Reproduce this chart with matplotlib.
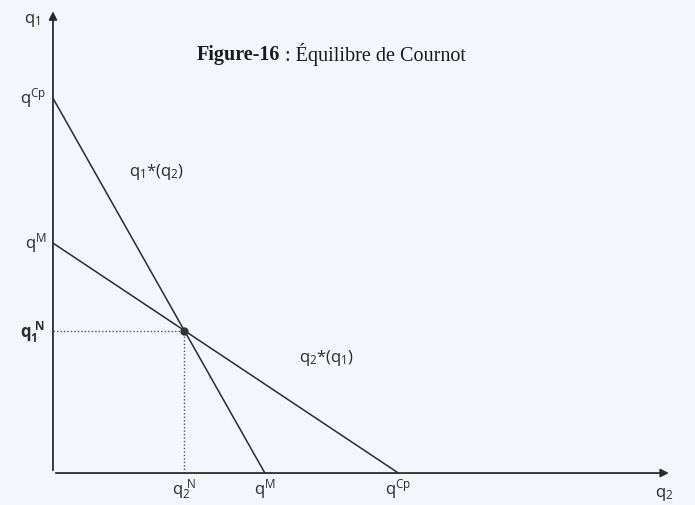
import matplotlib.pyplot as plt

plt.rcParams['font.family'] = ['Open Sans', 'DejaVu Sans']
plt.rcParams['mathtext.fontset'] = 'custom'
plt.rcParams['mathtext.rm'] = 'Open Sans'

# quantites du modele de Cournot (duopole symetrique)
q_M = 1.0      # quantite de monopole
q_Cp = 1.63    # quantite de concurrence parfaite
q_N = q_M * q_Cp / (q_M + q_Cp)   # equilibre de Nash

# fonctions de reaction : extremites
rf1_q2 = [0.0, q_M]
rf1_q1 = [q_Cp, 0.0]
rf2_q2 = [0.0, q_Cp]
rf2_q1 = [q_M, 0.0]

ink = '#2b2b2b'
fig = plt.figure(figsize=(6.95, 5.05), dpi=100)
fig.patch.set_facecolor('#f3f6fc')
ax = fig.add_axes([0, 0, 1, 1])
ax.set_facecolor('#f3f6fc')
ax.set_xlim(-0.25, 3.03)
ax.set_ylim(-0.139, 2.057)
ax.axis('off')

# axes avec fleches
ax.annotate('', xy=(2.92, 0), xytext=(0, 0),
            arrowprops=dict(arrowstyle='-|>', color=ink, lw=1.3, mutation_scale=12))
ax.annotate('', xy=(0, 2.02), xytext=(0, 0),
            arrowprops=dict(arrowstyle='-|>', color=ink, lw=1.3, mutation_scale=12))

# courbes de reaction
ax.plot(rf1_q2, rf1_q1, color=ink, lw=1.1)
ax.plot(rf2_q2, rf2_q1, color=ink, lw=1.1)

# pointilles vers l'equilibre
ax.plot([0, q_N], [q_N, q_N], color='#555555', lw=1.0, ls=(0, (1, 1.5)))
ax.plot([q_N, q_N], [0, q_N], color='#555555', lw=1.0, ls=(0, (1, 1.5)))
ax.plot(q_N, q_N, 'o', color='#333333', ms=5)

fs = 12
# etiquettes axe vertical
ax.text(-0.06, 1.97, r'$\mathregular{q_1}$', fontsize=fs, ha='right', va='center', color=ink)
ax.text(-0.03, q_Cp, r'$\mathregular{q^{Cp}}$', fontsize=fs, ha='right', va='center', color=ink)
ax.text(-0.03, q_M, r'$\mathregular{q^{M}}$', fontsize=fs, ha='right', va='center', color=ink)
ax.text(-0.04, q_N - 0.01, r'$\mathregular{q_1^{\ N}}$', fontsize=fs, ha='right', va='center',
        color=ink, fontweight='bold')

# etiquettes axe horizontal
yb = -0.095
ax.text(q_N, yb, r'$\mathregular{q_2^{\ N}}$', fontsize=fs, ha='center', va='baseline', color=ink)
ax.text(q_M, yb, r'$\mathregular{q^{M}}$', fontsize=fs, ha='center', va='baseline', color=ink)
ax.text(q_Cp, yb, r'$\mathregular{q^{Cp}}$', fontsize=fs, ha='center', va='baseline', color=ink)
ax.text(2.93, -0.105, r'$\mathregular{q_2}$', fontsize=fs, ha='right', va='baseline', color=ink)

# noms des fonctions de reaction
ax.text(0.36, 1.31, r'$\mathregular{q_1{*}(q_2)}$', fontsize=fs, ha='left', va='center', color=ink)
ax.text(1.16, 0.5, r'$\mathregular{q_2{*}(q_1)}$', fontsize=fs, ha='left', va='center', color=ink)

# titre
t1 = ax.text(0.68, 1.82, 'Figure-16', fontsize=14.5, fontweight='bold',
             family='Liberation Serif', ha='left', va='center', color='#1a1a1a')
ax.annotate(' : \u00c9quilibre de Cournot', xy=(1, 0.5), xycoords=t1,
            fontsize=14.5, family='Liberation Serif', ha='left', va='center',
            color='#1a1a1a')

fig.savefig('out.png', dpi=100, facecolor=fig.get_facecolor())
